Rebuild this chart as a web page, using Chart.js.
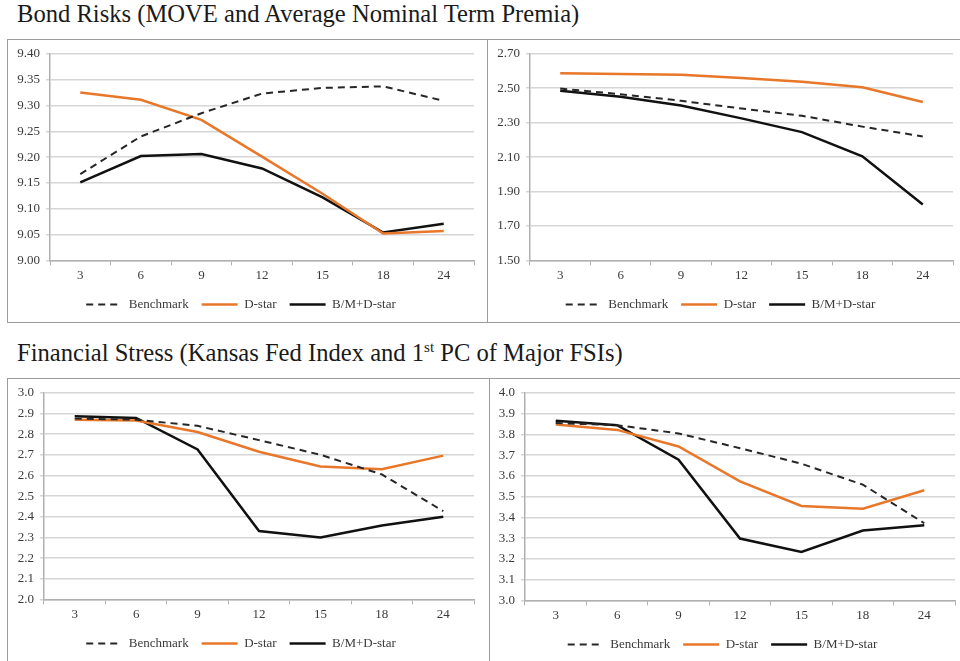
<!DOCTYPE html>
<html>
<head>
<meta charset="utf-8">
<script src="https://cdn.jsdelivr.net/npm/chart.js@4.4.1/dist/chart.umd.min.js"></script>
<style>
body { margin:0; width:960px; height:661px; overflow:hidden; background:#fff; position:relative;
       font-family:"Liberation Serif","Times New Roman",serif; }
.title { position:absolute; left:17px; font-size:24.6px; line-height:25px; color:#1a1a1a; white-space:nowrap; }
.title sup { font-size:15px; vertical-align:9px; line-height:0; }
.box { position:absolute; border:1.5px solid #9c9c9c; }
.divider { position:absolute; width:0; border-left:1.5px solid #9c9c9c; }
canvas { position:absolute; }
</style>
</head>
<body>
<div class="title" style="top:1px">Bond Risks (MOVE and Average Nominal Term Premia)</div>
<div class="box" style="left:7px; top:39px; width:1000px; height:282px"></div>
<div class="divider" style="left:487px; top:39px; height:283px"></div>

<div class="title" style="top:340px">Financial Stress (Kansas Fed Index and 1<sup>st</sup> PC of Major FSIs)</div>
<div class="box" style="left:7px; top:378px; width:1000px; height:400px"></div>
<div class="divider" style="left:489px; top:378px; height:300px"></div>

<canvas id="c1" width="478" height="281" style="left:8px; top:40px"></canvas>
<canvas id="c2" width="472" height="281" style="left:488px; top:40px"></canvas>
<canvas id="c3" width="480" height="282" style="left:8px; top:379px"></canvas>
<canvas id="c4" width="470" height="282" style="left:490px; top:379px"></canvas>

<script>
var horizons = ['3', '6', '9', '12', '15', '18', '24'];
var seriesNames = ['Benchmark', 'D-star', 'B/M+D-star'];

// Bond risks: MOVE
var moveBench = [9.167, 9.240, 9.285, 9.323, 9.334, 9.337, 9.309];
var moveDstar = [9.325, 9.311, 9.272, 9.201, 9.129, 9.052, 9.057];
var moveBM    = [9.151, 9.202, 9.206, 9.178, 9.122, 9.054, 9.071];

// Bond risks: average nominal term premia
var tpBench = [2.498, 2.465, 2.427, 2.382, 2.340, 2.277, 2.220];
var tpDstar = [2.587, 2.583, 2.578, 2.560, 2.538, 2.506, 2.420];
var tpBM    = [2.485, 2.450, 2.400, 2.325, 2.245, 2.105, 1.825];

// Financial stress: Kansas Fed index
var kcBench = [2.875, 2.870, 2.840, 2.771, 2.700, 2.605, 2.427];
var kcDstar = [2.870, 2.866, 2.810, 2.715, 2.643, 2.630, 2.696];
var kcBM    = [2.886, 2.878, 2.726, 2.331, 2.300, 2.358, 2.400];

// Financial stress: 1st PC of major FSIs
var pcBench = [3.855, 3.845, 3.805, 3.734, 3.659, 3.558, 3.372];
var pcDstar = [3.848, 3.822, 3.742, 3.574, 3.455, 3.442, 3.531];
var pcBM    = [3.866, 3.845, 3.678, 3.298, 3.234, 3.337, 3.362];

var textColor = '#3a3a3a';
var fontFam = '"Liberation Serif", "Times New Roman", serif';

function drawPanel(id, bench, dstar, bm, yMin, yMax, step, decimals, lay) {
	var ctx = document.getElementById(id).getContext('2d');
	return new Chart(ctx, {
		type: 'line',
		data: {
			labels: horizons,
			datasets: [{
				label: seriesNames[0], data: bench,
				borderColor: '#262626', borderWidth: 2, borderDash: [7, 5]
			}, {
				label: seriesNames[1], data: dstar,
				borderColor: '#e8772a', borderWidth: 2.5
			}, {
				label: seriesNames[2], data: bm,
				borderColor: '#111111', borderWidth: 2.5
			}]
		},
		options: {
			responsive: false,
			animation: false,
			devicePixelRatio: 1,
			elements: { point: { radius: 0 }, line: { tension: 0 } },
			layout: { padding: { left: 0, top: lay.top, right: lay.right, bottom: lay.bottom } },
			plugins: {
				tooltip: { enabled: false },
				legend: {
					position: 'bottom',
					labels: {
						usePointStyle: true, pointStyle: 'line', pointStyleWidth: 36,
						padding: 13, color: textColor,
						font: { family: fontFam, size: 13 },
						generateLabels: function(chart) {
							var items = Chart.defaults.plugins.legend.labels.generateLabels(chart);
							items.forEach(function(it) {
								it.lineDash = chart.data.datasets[it.datasetIndex].borderDash || [];
							});
							return items;
						}
					}
				}
			},
			scales: {
				x: {
					offset: true,
					grid: { offset: true, drawOnChartArea: false, drawTicks: true, tickLength: 5, color: '#b0b0b0' },
					border: { color: '#b0b0b0', width: 1.5 },
					ticks: { color: textColor, padding: 2, font: { family: fontFam, size: 13 }, maxRotation: 0 }
				},
				y: {
					min: yMin, max: yMax,
					grid: { color: '#d6d6d6', lineWidth: 1.5, tickLength: 4 },
					border: { color: '#b0b0b0', width: 1.5 },
					ticks: {
						stepSize: step, padding: 6, color: textColor,
						font: { family: fontFam, size: 13 },
						callback: function(v) { return Number(v).toFixed(decimals); }
					},
					afterFit: function(s) { s.width = lay.axisW; }
				}
			}
		}
	});
}

drawPanel('c1', moveBench, moveDstar, moveBM, 9.0, 9.4, 0.05, 2, { axisW: 42, top: 13, right: 12, bottom: 0 });
drawPanel('c2', tpBench, tpDstar, tpBM, 1.5, 2.7, 0.2, 2, { axisW: 42, top: 13, right: 7, bottom: 0 });
drawPanel('c3', kcBench, kcDstar, kcBM, 2.0, 3.0, 0.1, 1, { axisW: 36, top: 13, right: 14, bottom: 1 });
drawPanel('c4', pcBench, pcDstar, pcBM, 3.0, 4.0, 0.1, 1, { axisW: 35, top: 14, right: 5, bottom: 0 });
</script>
</body>
</html>
